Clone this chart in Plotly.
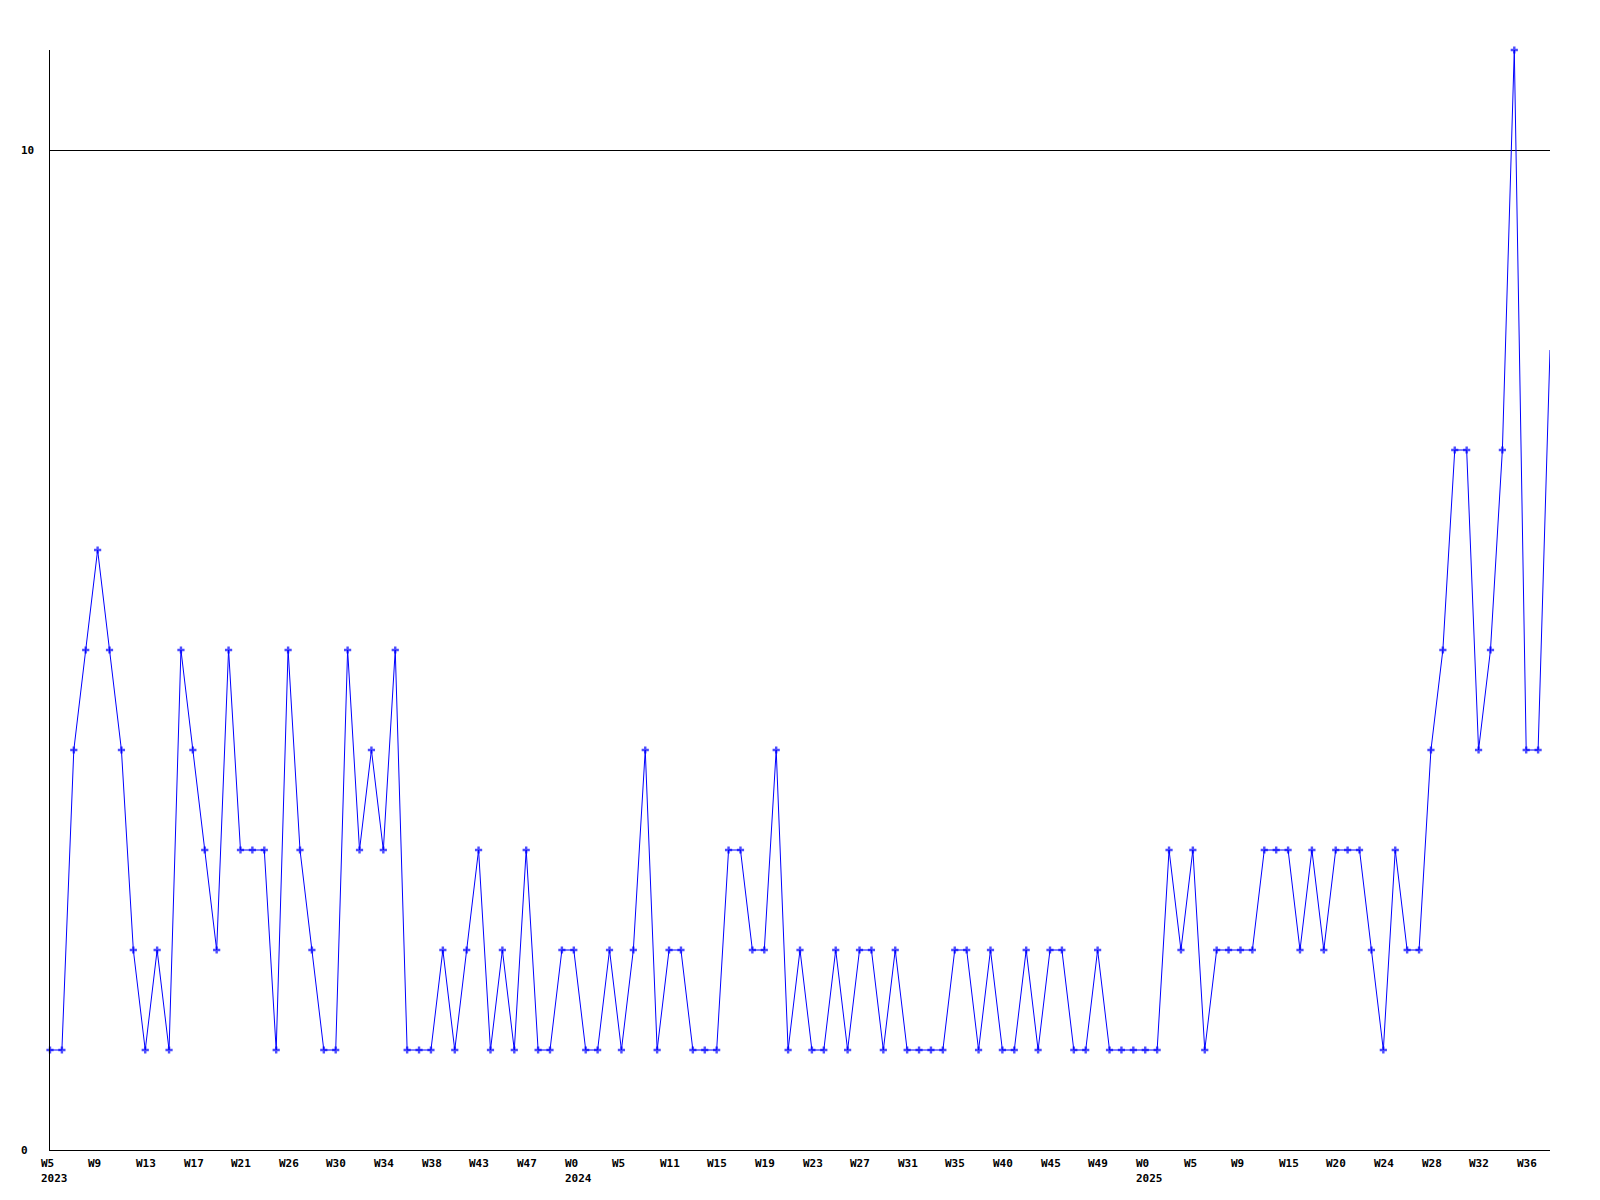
import plotly.graph_objects as go

# Weekly counts (one point per week, starting at W5 2023)
values = [
    1, 1, 4, 5, 6, 5, 4, 2, 1, 2, 1, 5, 4, 3, 2, 5, 3, 3, 3, 1,
    5, 3, 2, 1, 1, 5, 3, 4, 3, 5, 1,
    1, 1, 2, 1, 2, 3, 1, 2, 1, 3, 1, 1, 2, 2, 1, 1, 2, 1, 2,
    4, 1, 2, 2, 1, 1, 1, 3, 3, 2, 2, 4, 1, 2,
    1, 1, 2, 1, 2, 2, 1, 2, 1, 1, 1, 1, 2, 2, 1, 2, 1, 1, 2, 1,
    2, 2, 1, 1, 2, 1, 1, 1, 1,
    1, 3, 2, 3, 1, 2, 2, 2, 2, 3, 3, 3, 2, 3, 2, 3, 3, 3, 2, 1,
    3, 2, 2, 4, 5, 7, 7, 4, 5, 7, 11, 4, 4, 8,
]

# X-axis week labels, placed every 4th point (week index)
week_labels = [
    "W5", "W9", "W13", "W17", "W21", "W26", "W30", "W34", "W38", "W43", "W47",
    "W0", "W5", "W11", "W15", "W19", "W23", "W27", "W31", "W35", "W40", "W45", "W49",
    "W0", "W5", "W9", "W15", "W20", "W24", "W28", "W32", "W36",
]
week_label_idx = [
    0, 4, 8, 12, 16, 20, 24, 28, 32, 36, 40,
    44, 48, 52, 56, 60, 64, 68, 72, 76, 80, 84, 88,
    92, 96, 100, 104, 108, 112, 116, 120, 124,
]
year_labels = ["2023", "2024", "2025"]
year_label_idx = [0, 44, 92]

y_tick_vals = [0, 10]
y_tick_text = ["0", "10"]

x = list(range(len(values)))
marker_sizes = [6] * (len(values) - 1) + [0]

FONT = dict(family="DejaVu Sans Mono", size=11, color="black", weight="bold")

fig = go.Figure()
fig.add_trace(go.Scatter(
    x=x, y=values, mode="lines+markers",
    line=dict(color="#0000ff", width=1),
    marker=dict(symbol="cross", size=marker_sizes, color="#0000ff",
                line=dict(width=0)),
    cliponaxis=False, showlegend=False, hoverinfo="x+y",
))

annotations = []
for txt, pos in zip(week_labels, week_label_idx):
    annotations.append(dict(text=txt, x=pos, xref="x", y=0, yref="paper",
                            xanchor="left", yanchor="middle",
                            xshift=-10.3, yshift=-13,
                            showarrow=False, font=FONT, borderpad=0))
for txt, pos in zip(year_labels, year_label_idx):
    annotations.append(dict(text=txt, x=pos, xref="x", y=0, yref="paper",
                            xanchor="left", yanchor="middle",
                            xshift=-10.3, yshift=-28.5,
                            showarrow=False, font=FONT, borderpad=0))
for txt, val in zip(y_tick_text, y_tick_vals):
    annotations.append(dict(text=txt, x=0, xref="paper", y=val, yref="y",
                            xanchor="left", yanchor="middle", xshift=-30,
                            showarrow=False, font=FONT, borderpad=0))

# page body has an 8px default margin, so the figure is sized to fit
fig.update_layout(
    width=1584, height=1184,
    margin=dict(l=42, r=42, t=42, b=42),
    paper_bgcolor="white", plot_bgcolor="white",
    annotations=annotations,
    xaxis=dict(range=[0, len(values) - 1], showgrid=False, zeroline=False,
               showline=True, linecolor="black", linewidth=1,
               showticklabels=False, ticks="", fixedrange=True),
    yaxis=dict(range=[0, 11], tickvals=[10], showgrid=True, gridcolor="black",
               gridwidth=1, zeroline=False, showline=True, linecolor="black",
               linewidth=1, showticklabels=False, ticks="", fixedrange=True),
)

fig.write_html("out.html")
